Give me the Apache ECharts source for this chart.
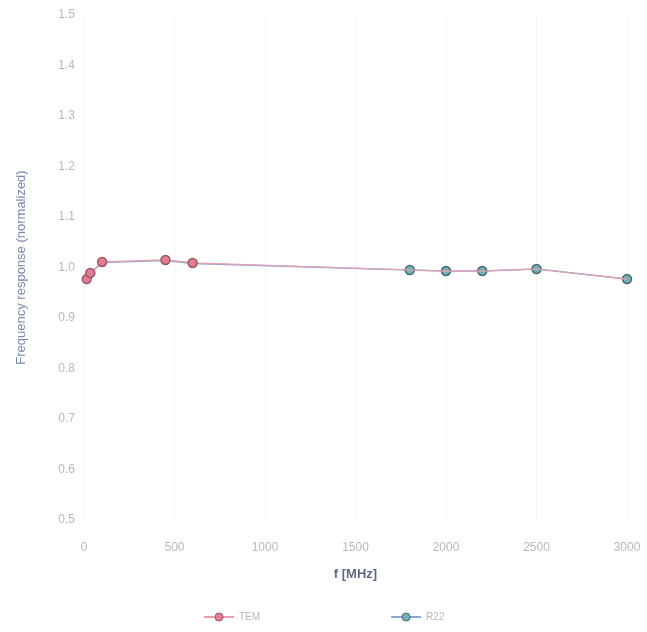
<!DOCTYPE html>
<html>
<head>
<meta charset="utf-8">
<script src="https://cdn.jsdelivr.net/npm/echarts@6/dist/echarts.min.js"></script>
<style>
html,body{margin:0;padding:0;background:#fff;}
#c{width:647px;height:632px;}
</style>
</head>
<body>
<div id="c"></div>
<script>
// Frequencies (MHz) of all measurement points
const freqs = [15, 35, 100, 450, 600, 1800, 2000, 2200, 2500, 3000];
// Normalized frequency response
const temValues = [0.977, 0.989, 1.011, 1.015, 1.009, 0.995, 0.993, 0.993, 0.997, 0.977];
const r22Values = [0.976, 0.988, 1.010, 1.014, 1.008, 0.995, 0.993, 0.993, 0.997, 0.977];
// Which points carry a marker for each series
const temMarked = [true, true, true, true, true, false, false, false, false, false];
const r22Marked = [false, false, false, false, false, true, true, true, true, true];
const yTicks = ['0.5','0.6','0.7','0.8','0.9','1.0','1.1','1.2','1.3','1.4','1.5'];
const xTicks = ['0','500','1000','1500','2000','2500','3000'];

const temStyle = {color: '#e57c90', borderColor: '#9b5a6a', borderWidth: 1.5};
const r22Style = {color: '#6fb3b5', borderColor: '#4f6678', borderWidth: 1.5};

function build(vals, marked) {
  return freqs.map((f, i) => ({
    value: [f, vals[i]],
    symbol: marked[i] ? 'circle' : 'none'
  }));
}

const chart = echarts.init(document.getElementById('c'));
chart.setOption({
  animation: false,
  backgroundColor: '#ffffff',
  textStyle: {fontFamily: 'Liberation Sans, Arial, sans-serif'},
  grid: {left: 84, right: 20, top: 15, bottom: 112},
  xAxis: {
    type: 'value', min: 0, max: 3000, interval: 500,
    name: 'f [MHz]', nameLocation: 'middle', nameGap: 48,
    nameTextStyle: {color: '#5d6b82', fontSize: 13, fontWeight: 'bold'},
    axisLine: {show: false}, axisTick: {show: false},
    axisLabel: {color: '#b5b8bd', fontSize: 12, margin: 22,
      formatter: v => xTicks[Math.round(v / 500)]},
    splitLine: {show: true, lineStyle: {color: '#f6f6f6', width: 1}}
  },
  yAxis: {
    type: 'value', min: 0.5, max: 1.5, interval: 0.1,
    name: 'Frequency response (normalized)', nameLocation: 'middle', nameGap: 56,
    nameTextStyle: {color: '#7a88b0', fontSize: 13},
    axisLine: {show: false}, axisTick: {show: false},
    axisLabel: {color: '#b5b8bd', fontSize: 12, margin: 9,
      formatter: v => yTicks[Math.round((v - 0.5) * 10)]},
    splitLine: {show: false}
  },
  legend: {
    bottom: 5, left: 198, itemGap: 130, itemWidth: 30, itemHeight: 10,
    textStyle: {color: '#b5b8bd', fontSize: 10},
    data: [
      {name: 'TEM', itemStyle: {color: '#e57c90', borderColor: '#9b5a6a', borderWidth: 1}},
      {name: 'R22', itemStyle: {color: '#6fb3b5', borderColor: '#4f6678', borderWidth: 1}}
    ]
  },
  series: [
    {
      name: 'R22', type: 'line', data: build(r22Values, r22Marked),
      symbol: 'circle', symbolSize: 9, z: 2,
      lineStyle: {color: '#8ea6d6', width: 1.5},
      itemStyle: r22Style
    },
    {
      name: 'TEM', type: 'line', data: build(temValues, temMarked),
      symbol: 'circle', symbolSize: 9, z: 3,
      lineStyle: {color: '#e8a0ae', width: 1.2},
      itemStyle: temStyle
    }
  ]
});
</script>
</body>
</html>
